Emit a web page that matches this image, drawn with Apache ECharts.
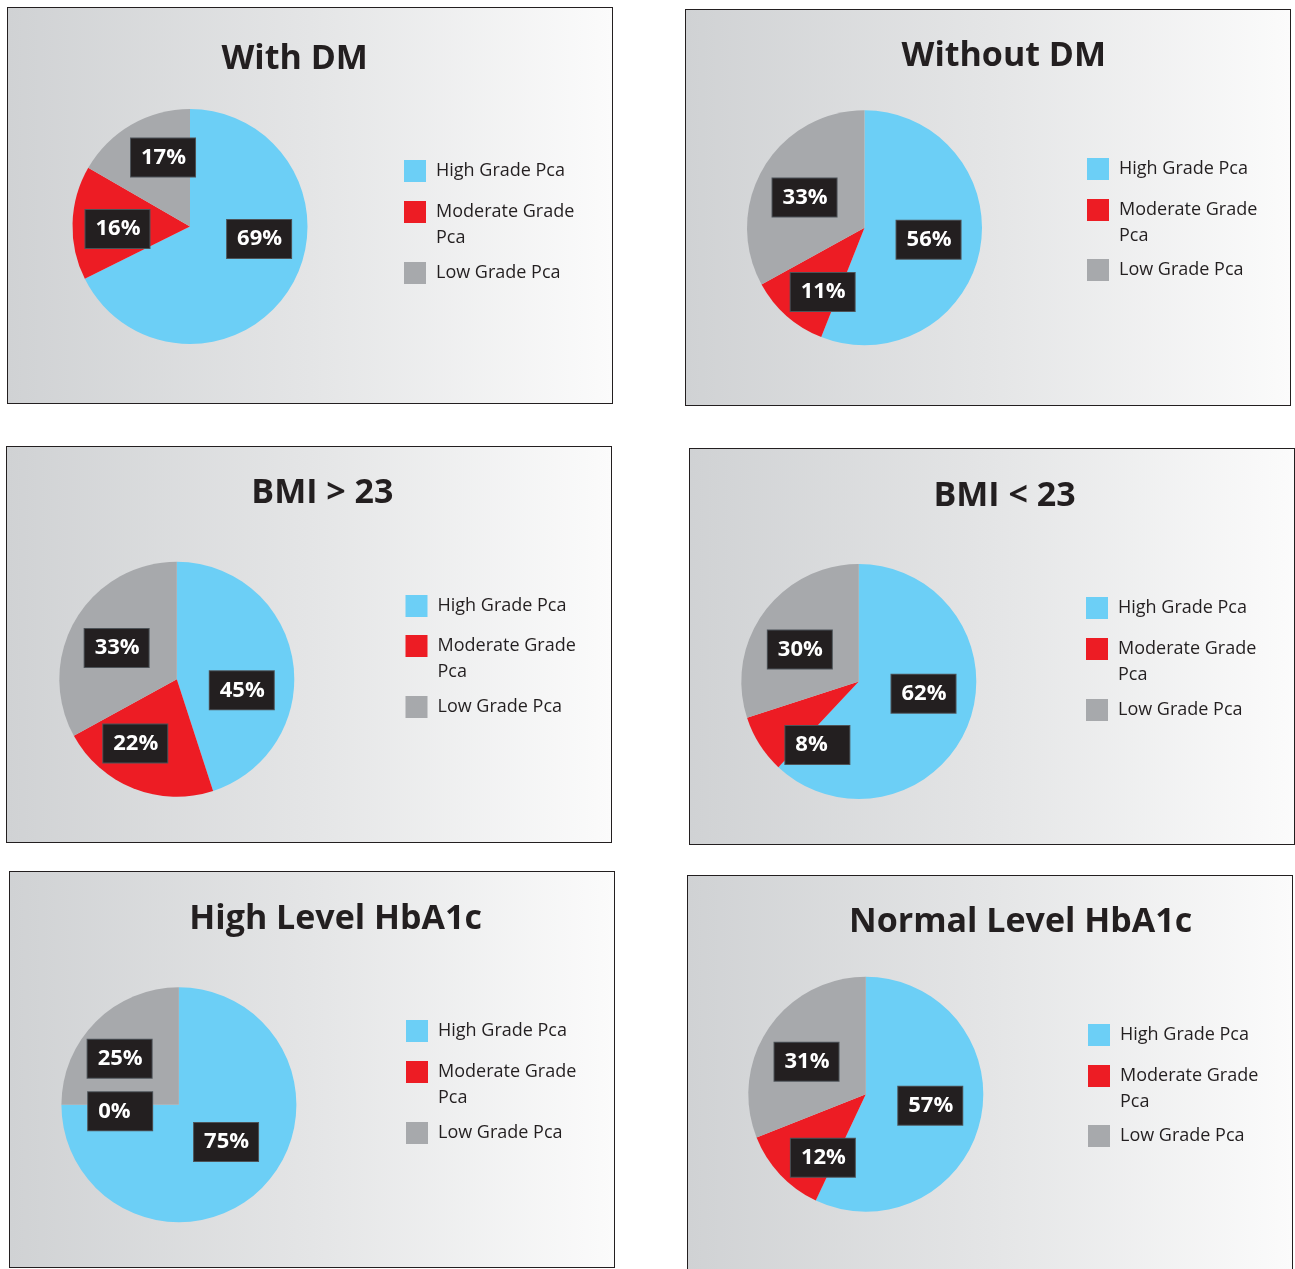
<!DOCTYPE html>
<html>
<head>
<meta charset="utf-8">
<script src="https://cdn.jsdelivr.net/npm/echarts@6/dist/echarts.min.js"></script>
<style>
html,body{margin:0;padding:0;width:1295px;height:1269px;overflow:hidden;background:#ffffff;}
.panel{position:absolute;width:606px;height:397px;border:1px solid #231f20;box-sizing:border-box;}
</style>
</head>
<body>
<div id="c0" class="panel" style="left:7px;top:7px"></div>
<div id="c1" class="panel" style="left:685px;top:9px"></div>
<div id="c2" class="panel" style="left:6px;top:446px"></div>
<div id="c3" class="panel" style="left:689px;top:448px"></div>
<div id="c4" class="panel" style="left:9px;top:871px"></div>
<div id="c5" class="panel" style="left:687px;top:875px"></div>
<script>
// ---- data ----
const categories = ['High Grade Pca', 'Moderate Grade Pca', 'Low Grade Pca'];
const titles = ['With DM', 'Without DM', 'BMI > 23', 'BMI < 23', 'High Level HbA1c', 'Normal Level HbA1c'];
const withDM = [69, 16, 17];
const withoutDM = [56, 11, 33];
const bmiAbove23 = [45, 22, 33];
const bmiBelow23 = [62, 8, 30];
const highHbA1c = [75, 0, 25];
const normalHbA1c = [57, 12, 31];
const seriesValues = [withDM, withoutDM, bmiAbove23, bmiBelow23, highHbA1c, normalHbA1c];

// ---- style / layout ----
const colors = ['#6CCFF6', '#ED1C24', '#A7A9AC'];
const layout = [
  { cx: 182, cy: 218.5, tx: 286.7, ty: 51.3, lx: 396, ly: [163, 204, 265],
    nudge: [[16.6, -20], [-10.8, 4.3], [3.9, -15.6]] },
  { cx: 178.5, cy: 217.8, tx: 317.8, ty: 46.2, lx: 401, ly: [159, 200, 260],
    nudge: [[3.4, 0.5], [-1, 17.8], [-6.8, 1.1]] },
  { cx: 169.8, cy: 232.2, tx: 315.4, ty: 46.8, lx: 398.5, ly: [159, 199, 260],
    nudge: [[4, 20.8], [-18.8, 6.9], [-7, 0.2]] },
  { cx: 168.8, cy: 232.5, tx: 314.5, ty: 47.2, lx: 396, ly: [159, 200, 261],
    nudge: [[7.3, -10.6], [10.7, 30.5], [-9, 4.3]] },
  { cx: 168.9, cy: 232.8, tx: 325.6, ty: 47.3, lx: 396, ly: [159, 200, 261],
    nudge: [[3.5, -6.5], [3, 6.5], [-15.6, -2.3]] },
  { cx: 177.8, cy: 218.2, tx: 332.6, ty: 46.7, lx: 400, ly: [159, 200, 260],
    nudge: [[4.2, -1.8], [2.1, 21.4], [-8.2, 2.3]] }
];
const FONT = 'Open Sans';

function buildLegends(L) {
  return categories.map((name, i) => {
    const multi = (i === 1);
    return {
      data: [{ name: name, icon: 'rect' }],
      orient: 'vertical',
      left: L.lx,
      top: multi ? L.ly[i] - 39 : L.ly[i] - 11,
      padding: 0,
      itemWidth: 22,
      itemHeight: 22,
      itemGap: 0,
      formatter: multi ? '\u00a0\nModerate Grade\nPca' : '{name}',
      textStyle: {
        fontFamily: FONT,
        fontSize: 18,
        color: '#231f20',
        lineHeight: multi ? 26 : 22,
        padding: [0, 0, 0, 5]
      }
    };
  });
}

seriesValues.forEach((vals, k) => {
  const L = layout[k];
  const chart = echarts.init(document.getElementById('c' + k), null, { renderer: 'canvas' });
  chart.setOption({
    animation: false,
    backgroundColor: new echarts.graphic.LinearGradient(0, 0, 1, 0, [
      { offset: 0, color: '#d0d2d4' },
      { offset: 0.5, color: '#e4e5e6' },
      { offset: 1, color: '#fbfbfb' }
    ]),
    color: colors,
    title: {
      text: titles[k],
      left: L.tx,
      top: L.ty,
      textAlign: 'center',
      textVerticalAlign: 'middle',
      padding: 0,
      textStyle: { fontFamily: FONT, fontWeight: 'bold', fontSize: 34, color: '#231f20' }
    },
    legend: buildLegends(L),
    series: [{
      type: 'pie',
      center: [L.cx, L.cy],
      radius: 117.5,
      startAngle: 90,
      clockwise: true,
      avoidLabelOverlap: false,
      minShowLabelAngle: 0,
      itemStyle: { borderWidth: 0, borderRadius: 0 },
      emphasis: { disabled: true },
      labelLine: { show: false },
      label: {
        show: true,
        position: 'inside',
        formatter: p => '{v|' + p.value + '%}',
        backgroundColor: '#231f20',
        borderColor: '#4d5358',
        borderWidth: 1,
        padding: [8, 8, 8, 10],
        rich: {
          v: { width: 46, align: 'left', color: '#ffffff', fontFamily: FONT,
               fontWeight: 'bold', fontSize: 22, lineHeight: 22 }
        }
      },
      data: vals.map((v, i) => ({
        name: categories[i],
        value: v,
        label: { offset: L.nudge[i] }
      }))
    }]
  });
});
</script>
</body>
</html>
